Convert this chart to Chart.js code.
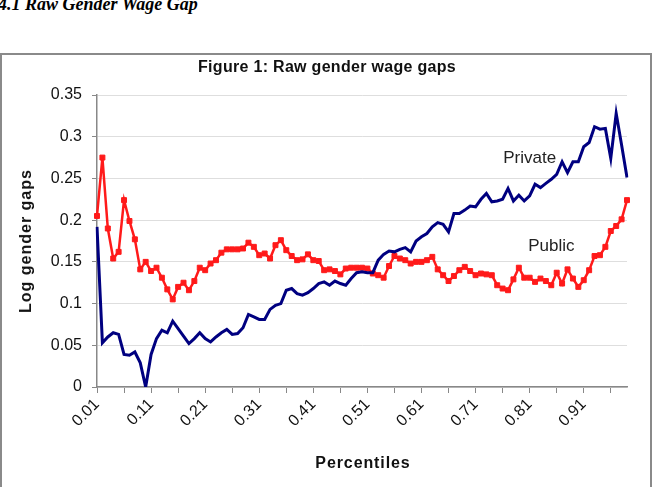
<!DOCTYPE html>
<html>
<head>
<meta charset="utf-8">
<script src="https://cdn.jsdelivr.net/npm/chart.js@4.4.0/dist/chart.umd.min.js"></script>
<style>
  body { margin: 0; background: #fff; width: 654px; height: 487px; overflow: hidden; position: relative; font-family: 'Liberation Sans', Arial, sans-serif; }
  #heading { position: absolute; left: -2px; top: -5px; font: italic bold 18px/18px 'Liberation Serif', 'Times New Roman', serif; white-space: nowrap; }
  #frame { position: absolute; left: 0; top: 53px; width: 648px; height: 460px; border: 2px solid #8a8a8a; }
  canvas { position: absolute; left: 0; top: 0; }
  .lbl { position: absolute; font-weight: bold; white-space: nowrap; color: #111; transform: translate(-50%, -50%); }
  #title { left: 327px; top: 67px; font-size: 16px; letter-spacing: 0.3px; }
  #ytitle { left: 26px; top: 241px; font-size: 16px; letter-spacing: 1px; transform: translate(-50%, -50%) rotate(-90deg); }
  #xtitle { left: 363px; top: 463px; font-size: 16px; letter-spacing: 0.9px; }
</style>
</head>
<body>
<div id="heading">4.1 Raw Gender Wage Gap</div>
<div id="frame"></div>
<canvas id="chart" width="654" height="487"></canvas>
<div class="lbl" id="title">Figure 1: Raw gender wage gaps</div>
<div class="lbl" id="ytitle">Log gender gaps</div>
<div class="lbl" id="xtitle">Percentiles</div>
<script>
// x categories (percentiles)
const percentiles = [
  '0.01','0.02','0.03','0.04','0.05','0.06','0.07','0.08','0.09','0.1',
  '0.11','0.12','0.13','0.14','0.15','0.16','0.17','0.18','0.19','0.2',
  '0.21','0.22','0.23','0.24','0.25','0.26','0.27','0.28','0.29','0.3',
  '0.31','0.32','0.33','0.34','0.35','0.36','0.37','0.38','0.39','0.4',
  '0.41','0.42','0.43','0.44','0.45','0.46','0.47','0.48','0.49','0.5',
  '0.51','0.52','0.53','0.54','0.55','0.56','0.57','0.58','0.59','0.6',
  '0.61','0.62','0.63','0.64','0.65','0.66','0.67','0.68','0.69','0.7',
  '0.71','0.72','0.73','0.74','0.75','0.76','0.77','0.78','0.79','0.8',
  '0.81','0.82','0.83','0.84','0.85','0.86','0.87','0.88','0.89','0.9',
  '0.91','0.92','0.93','0.94','0.95','0.96','0.97','0.98','0.99'
];

// log gender gap, private sector
const privateGap = [
  0.192,0.053,0.060,0.065,0.063,0.039,0.038,0.042,0.029,0.000,
  0.039,0.058,0.068,0.065,0.079,0.070,0.061,0.052,0.058,0.065,
  0.058,0.054,0.060,0.065,0.069,0.063,0.064,0.071,0.087,0.084,
  0.081,0.081,0.093,0.098,0.100,0.116,0.118,0.112,0.110,0.113,
  0.118,0.124,0.126,0.122,0.127,0.124,0.122,0.130,0.137,0.138,
  0.137,0.137,0.152,0.159,0.163,0.162,0.165,0.167,0.162,0.175,
  0.180,0.184,0.192,0.197,0.195,0.186,0.208,0.208,0.212,0.217,
  0.216,0.225,0.232,0.222,0.223,0.225,0.238,0.223,0.230,0.223,
  0.229,0.243,0.239,0.244,0.249,0.255,0.270,0.257,0.270,0.270,
  0.288,0.293,0.312,0.309,0.310,0.274,0.328,0.290,0.251
];

// log gender gap, public sector
const publicGap = [
  0.205,0.275,0.190,0.154,0.162,0.224,0.199,0.177,0.141,0.150,
  0.139,0.143,0.131,0.117,0.105,0.120,0.125,0.116,0.127,0.143,
  0.140,0.148,0.152,0.161,0.165,0.165,0.165,0.166,0.173,0.168,
  0.158,0.160,0.154,0.170,0.176,0.164,0.157,0.152,0.153,0.159,
  0.152,0.151,0.140,0.141,0.139,0.135,0.142,0.143,0.143,0.143,
  0.142,0.136,0.134,0.131,0.145,0.157,0.154,0.152,0.148,0.150,
  0.150,0.152,0.156,0.141,0.134,0.127,0.133,0.140,0.144,0.139,
  0.134,0.136,0.135,0.134,0.122,0.118,0.116,0.129,0.143,0.131,
  0.131,0.126,0.130,0.127,0.122,0.137,0.124,0.141,0.130,0.120,
  0.128,0.140,0.157,0.158,0.168,0.187,0.193,0.201,0.224
];

// in-plot series names and where they sit (category index, value)
const noteText = ['Private', 'Public'];
const noteAt = [80, 84];
const noteValue = [0.274, 0.169];

const seriesNotes = {
  id: 'seriesNotes',
  afterDatasetsDraw(chart) {
    const {ctx, scales: {x, y}} = chart;
    ctx.save();
    ctx.font = '17px "Liberation Sans", Arial, sans-serif';
    ctx.fillStyle = '#222';
    ctx.textAlign = 'center';
    ctx.textBaseline = 'middle';
    noteText.forEach((t, i) => {
      ctx.fillText(t, x.getPixelForValue(noteAt[i]), y.getPixelForValue(noteValue[i]));
    });
    ctx.restore();
  }
};

const tickFont = {family: "'Liberation Sans', Arial, sans-serif", size: 16};

new Chart('chart', {
  type: 'line',
  data: {
    labels: percentiles,
    datasets: [
      {
        label: 'Private',
        data: privateGap,
        borderColor: '#000080',
        borderWidth: 3,
        pointRadius: 0,
        order: 0
      },
      {
        label: 'Public',
        data: publicGap,
        borderColor: '#ff1a1a',
        backgroundColor: '#ff1a1a',
        borderWidth: 2.5,
        pointStyle: 'rect',
        pointRadius: 3.5,
        pointBorderWidth: 1,
        order: 1
      }
    ]
  },
  options: {
    responsive: false,
    animation: false,
    layout: {padding: {left: 40, top: 95, right: 27, bottom: 40}},
    plugins: {legend: {display: false}, tooltip: {enabled: false}},
    scales: {
      x: {
        afterFit: s => { s.height = 60; },
        grid: {
          drawOnChartArea: false,
          tickLength: 6,
          tickColor: c => c.index % 5 === 0 ? '#888' : 'rgba(0,0,0,0)'
        },
        border: {color: '#888', width: 1.5},
        ticks: {
          autoSkip: false,
          minRotation: 45,
          maxRotation: 45,
          padding: 2,
          color: '#111',
          font: tickFont,
          callback: (v, i) => i % 10 === 0 ? percentiles[i] : ''
        }
      },
      y: {
        min: 0,
        max: 0.35,
        afterFit: s => { s.width = 57; },
        grid: {color: '#dedede', tickColor: '#888', tickLength: 5},
        border: {color: '#888', width: 1.5},
        ticks: {
          stepSize: 0.05,
          padding: 10,
          color: '#111',
          font: tickFont,
          callback: v => String(+v.toFixed(2))
        }
      }
    }
  },
  plugins: [seriesNotes]
});
</script>
</body>
</html>
